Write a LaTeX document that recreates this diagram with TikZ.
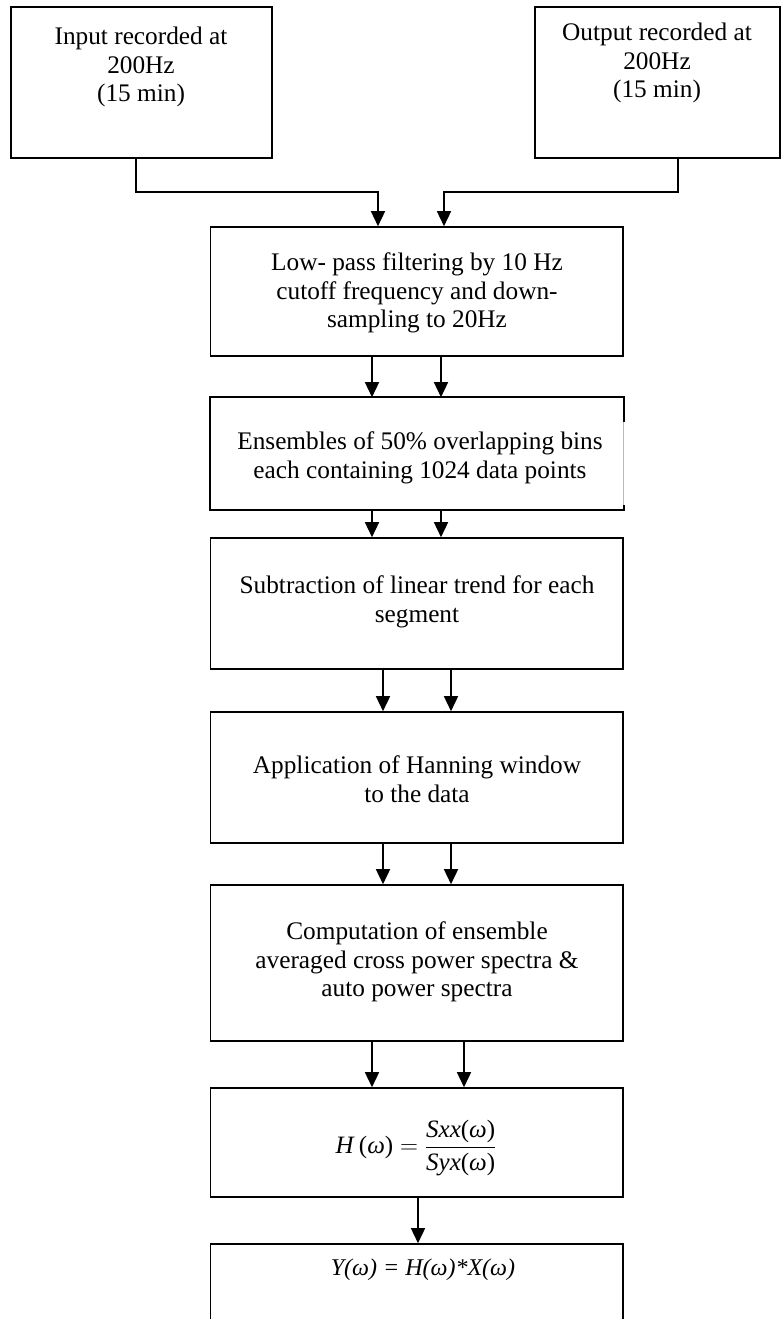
\documentclass[tikz,border=0pt]{standalone}
\usepackage{fontspec}
\setmainfont{Liberation Serif}
\usetikzlibrary{arrows.meta}
\begin{document}
\begin{tikzpicture}[x=1pt,y=-1pt,
  edge/.style={line width=1.6pt},
  box/.style={draw, edge, rectangle, inner sep=0pt},
  stage/.style={box, minimum width=412.5pt},
  txt/.style={align=center, inner sep=0pt, font=\fontsize{25.3}{28.5}\selectfont},
  arr/.style={line width=1.5pt, -{Triangle[width=14pt,length=15pt]}}]
\clip (0,0) rectangle (781,1319);

% source boxes
\node[box, minimum width=261pt, minimum height=151pt] (in)  at (141.5,82.5) {};
\node[box, minimum width=245pt, minimum height=151pt] (out) at (657.5,82.5) {};
\node[txt] (intxt)  at (141,67) {Input recorded at\\200Hz\\(15 min)};
\node[txt] (outtxt) at (657,63) {Output recorded at\\200Hz\\(15 min)};

% processing chain
\node[stage, minimum height=129pt] (lp)   at (416.75,291.5) {};
\node[stage, minimum height=111pt, draw=none] (ens) at (416.75,453.5) {};
\node[stage, minimum height=131pt] (sub)  at (416.75,603.5) {};
\node[stage, minimum height=131pt] (han)  at (416.75,777.5) {};
\node[stage, minimum height=156pt] (comp) at (416.75,963) {};
\node[stage, minimum height=109pt] (hf)   at (416.75,1142.5) {};
\node[stage, minimum height=100pt] (yf)   at (416.75,1294) {};

% ensembles box: right edge only partly drawn
\draw[edge] ([yshift=-25pt]ens.north east) -- (ens.north east) -- (ens.north west)
  -- (ens.south west) -- (ens.south east) -- ([yshift=5pt]ens.south east);
\draw[gray!55, line width=0.6pt] ([xshift=-1pt,yshift=-25pt]ens.north east)
  -- ([xshift=-1pt,yshift=5pt]ens.south east);

\node[txt] (lptxt)   at (417,293) {Low- pass filtering by 10 Hz\\cutoff frequency and down-\\sampling to 20Hz};
\node[txt] (enstxt)  at (420,458) {Ensembles of 50\% overlapping bins\\each containing 1024 data points};
\node[txt] (subtxt)  at (417,602) {Subtraction of linear trend for each\\segment};
\node[txt] (hantxt)  at (417,779) {Application of Hanning window\\to the data};
\node[txt] (comptxt) at (417,962) {Computation of ensemble\\averaged cross power spectra \&\\auto power spectra};
\node[txt, font=\fontsize{25}{28}\selectfont] (hftxt) at (416,1148)
  {$\displaystyle \mbox{\textit{H}\,(\textit{ω})} = \frac{\mbox{\textit{Sxx}(\textit{ω})}}{\mbox{\textit{Syx}(\textit{ω})}}$};
\node[txt, font=\fontsize{24}{27}\selectfont\itshape] (yftxt) at (423,1270) {Y(ω) = H(ω)*X(ω)};

% connectors
\draw[arr] (136,0 |- in.south) -- (136,192) -| (378,0 |- lp.north);
\draw[arr] (678,0 |- out.south) -- (678,192) -| (444,0 |- lp.north);
\draw[arr] (372,0 |- lp.south) -- (372,0 |- ens.north);
\draw[arr] (441,0 |- lp.south) -- (441,0 |- ens.north);
\draw[arr] (372,0 |- ens.south) -- (372,0 |- sub.north);
\draw[arr] (441,0 |- ens.south) -- (441,0 |- sub.north);
\draw[arr] (383,0 |- sub.south) -- (383,0 |- han.north);
\draw[arr] (451,0 |- sub.south) -- (451,0 |- han.north);
\draw[arr] (383,0 |- han.south) -- (383,0 |- comp.north);
\draw[arr] (451,0 |- han.south) -- (451,0 |- comp.north);
\draw[arr] (372,0 |- comp.south) -- (372,0 |- hf.north);
\draw[arr] (464,0 |- comp.south) -- (464,0 |- hf.north);
\draw[arr] (418,0 |- hf.south) -- (418,0 |- yf.north);
\end{tikzpicture}
\end{document}
